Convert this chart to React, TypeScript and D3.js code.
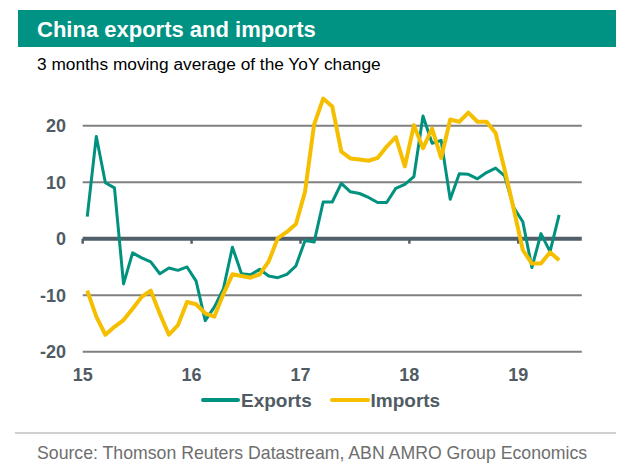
import React from "react";
import * as d3 from "d3";

const yearLabels = ["15", "16", "17", "18", "19"];
const yTicks = [-20, -10, 0, 10, 20];

// Monthly, Jan 2015 .. May 2019
const exports = [
  3.9, 18.1, 9.9, 9.0, -8.0, -2.5, -3.4, -4.1, -6.2, -5.2, -5.6, -5.0,
  -7.5, -14.5, -12.1, -8.9, -1.5, -6.2, -6.4, -5.4, -6.6, -6.9, -6.3, -4.8,
  -0.3, -0.6, 6.5, 6.5, 9.8, 8.3, 8.0, 7.3, 6.4, 6.4, 8.9, 9.6,
  11.0, 21.7, 16.9, 17.4, 7.0, 11.5, 11.4, 10.6, 11.7, 12.5, 11.1, 5.5,
  3.0, -5.1, 0.9, -2.3, 4.2,
];
const imports = [
  -9.2, -13.8, -17.0, -15.6, -14.4, -12.4, -10.3, -9.2, -13.3, -17.0, -15.3, -11.2,
  -11.6, -13.2, -13.8, -9.8, -6.3, -6.6, -6.9, -6.3, -4.0, 0.1, 1.2, 2.6,
  8.3, 20.2, 24.8, 23.4, 15.4, 14.2, 14.0, 13.8, 14.3, 16.3, 18.0, 12.8,
  20.1, 16.0, 19.5, 14.3, 21.1, 20.7, 22.3, 20.7, 20.7, 18.7, 12.2, 5.2,
  -2.0, -4.4, -4.4, -2.4, -3.8,
];

const TEAL = "#009282";
const EXP = "#00927f";
const IMP = "#f5bf00";
const GREY_TEXT = "#505b63";
const FONT = "Arial, 'Liberation Sans', sans-serif";

export default function App() {
  const x = d3.scaleLinear().domain([0, 55]).range([82.7, 581.8]);
  const y = d3.scaleLinear().domain([-20, 20]).range([351.7, 125.7]);

  const line = d3
    .line<number>()
    .x((_, i) => x(i + 0.5))
    .y((d) => y(d));

  return (
    <svg
      width={626}
      height={475}
      style={{ position: "absolute", left: 0, top: 0, background: "#fff" }}
      fontFamily={FONT}
    >
      <rect x={18} y={10} width={598} height={37} fill={TEAL} />
      <text x={37} y={37} fill="#fff" fontSize={22} fontWeight="bold">
        China exports and imports
      </text>
      <text x={37} y={69.5} fill="#000" fontSize={17.3}>
        3 months moving average of the YoY change
      </text>

      {yTicks.map((t) => (
        <g key={t}>
          {t !== 0 && (
            <line
              x1={x(0)}
              x2={x(55)}
              y1={y(t)}
              y2={y(t)}
              stroke="#808080"
              strokeWidth={2}
            />
          )}
          <text
            x={66}
            y={y(t) + 6.5}
            textAnchor="end"
            fill={GREY_TEXT}
            fontSize={18}
            fontWeight="bold"
          >
            {t}
          </text>
        </g>
      ))}

      {yearLabels.map((lab, i) => (
        <g key={lab}>
          <line
            x1={x(i * 12)}
            x2={x(i * 12)}
            y1={y(0)}
            y2={y(0) + 5}
            stroke="#505f69"
            strokeWidth={2.5}
          />
          <text
            x={x(i * 12)}
            y={381}
            textAnchor="middle"
            fill={GREY_TEXT}
            fontSize={18}
            fontWeight="bold"
          >
            {lab}
          </text>
        </g>
      ))}
      <line
        x1={x(0)}
        x2={x(55)}
        y1={y(0)}
        y2={y(0)}
        stroke="#505f69"
        strokeWidth={4}
      />

      <path d={line(exports) || ""} fill="none" stroke={EXP} strokeWidth={3} strokeLinejoin="round" />
      <path d={line(imports) || ""} fill="none" stroke={IMP} strokeWidth={4} strokeLinejoin="round" />

      <line x1={203} x2={238} y1={400} y2={400} stroke={EXP} strokeWidth={4} strokeLinecap="round" />
      <text x={241} y={406.5} fill={GREY_TEXT} fontSize={19} fontWeight="bold">
        Exports
      </text>
      <line x1={332} x2={368} y1={400} y2={400} stroke={IMP} strokeWidth={4} strokeLinecap="round" />
      <text x={370.5} y={406.5} fill={GREY_TEXT} fontSize={19} fontWeight="bold">
        Imports
      </text>

      <line x1={15} x2={616} y1={433} y2={433} stroke="#c0c0c0" strokeWidth={1.5} />
      <text x={37} y={459} fill="#6e6e6e" fontSize={17.7}>
        Source: Thomson Reuters Datastream, ABN AMRO Group Economics
      </text>
    </svg>
  );
}
